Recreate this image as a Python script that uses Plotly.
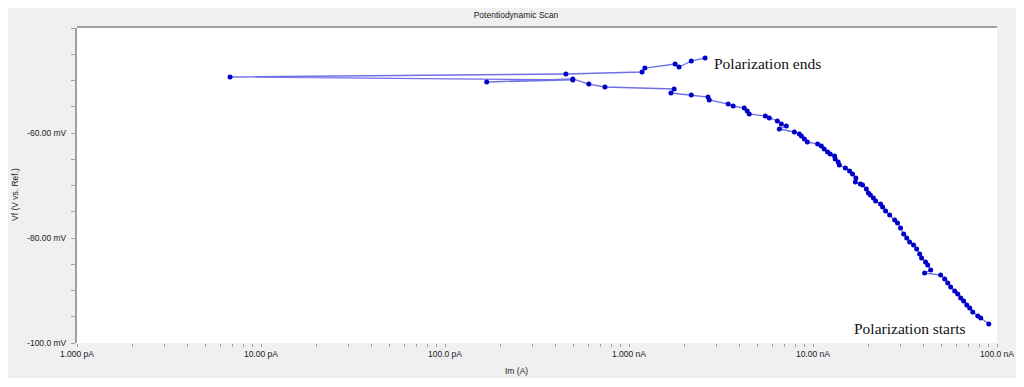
import plotly.graph_objects as go

# Scan order: starts at bottom right, ends at top
current_A = [
    90.2e-9, 81.6e-9, 78.6e-9, 73.8e-9, 71.1e-9, 68.5e-9, 65.9e-9, 63.5e-9, 61.2e-9, 58.9e-9,
    56.0e-9, 54.0e-9, 52.0e-9, 49.4e-9, 40.4e-9, 43.6e-9, 42.0e-9, 40.9e-9, 38.9e-9, 38.0e-9,
    36.6e-9, 35.2e-9, 33.5e-9, 32.3e-9, 31.1e-9, 29.9e-9, 28.8e-9, 27.8e-9, 26.1e-9, 24.8e-9,
    23.9e-9, 23.3e-9, 21.9e-9, 21.3e-9, 20.5e-9, 20.0e-9, 19.5e-9, 18.6e-9, 18.1e-9, 17.0e-9,
    17.1e-9, 16.4e-9, 15.8e-9, 15.0e-9, 13.9e-9, 13.7e-9, 13.2e-9, 13.1e-9, 12.4e-9, 12.0e-9,
    11.5e-9, 11.1e-9, 10.6e-9, 9.32e-9, 8.98e-9, 8.65e-9, 8.43e-9, 7.92e-9, 6.56e-9, 7.16e-9,
    6.73e-9, 6.40e-9, 5.79e-9, 5.51e-9, 4.50e-9, 4.39e-9, 4.23e-9, 3.68e-9, 3.46e-9, 2.73e-9,
    2.69e-9, 2.18e-9, 1.69e-9, 1.76e-9, 0.740e-9, 0.605e-9, 0.495e-9, 0.1685e-9, 0.495e-9,
    0.00679e-9, 0.454e-9, 1.177e-9, 1.22e-9, 1.78e-9, 1.87e-9, 2.18e-9, 2.59e-9,
]
potential_mV = [
    -96.38, -95.24, -94.86, -94.10, -93.33, -92.76, -92.00, -91.43, -90.67, -90.10,
    -89.33, -88.57, -87.81, -87.05, -86.67, -86.10, -85.14, -84.57, -83.81, -83.05,
    -82.10, -81.33, -80.76, -80.00, -79.24, -78.10, -77.14, -76.57, -75.62, -74.86,
    -74.10, -73.52, -72.95, -72.38, -71.81, -71.43, -70.67, -69.90, -69.71, -69.33,
    -68.57, -67.81, -67.24, -66.67, -66.10, -65.52, -64.95, -64.38, -64.00, -63.62,
    -63.05, -62.48, -62.10, -61.71, -61.14, -60.57, -60.19, -59.81, -59.24, -58.67,
    -58.29, -57.71, -57.14, -56.76, -56.38, -55.81, -55.24, -54.86, -54.48, -53.71,
    -53.14, -52.76, -52.38, -51.62, -51.24, -50.67, -49.71, -50.29, -49.90,
    -49.33, -48.76, -48.38, -47.62, -46.86, -47.43, -46.29, -45.71,
]

x_tick_vals = [1e-12, 1e-11, 1e-10, 1e-9, 1e-8, 1e-7]
x_tick_text = ["1.000 pA", "10.00 pA", "100.0 pA", "1.000 nA", "10.00 nA", "100.0 nA"]
y_tick_vals = [-100, -80, -60]
y_tick_text = ["-100.0 mV", "-80.00 mV", "-60.00 mV"]

title_text = "Potentiodynamic Scan"
x_title = "Im (A)"
y_title = "Vf (V vs. Ref.)"
label_end = "Polarization ends"
label_start = "Polarization starts"

# page is rendered with an 8px body margin; figure = the gray panel
OFF = 8
W, H = 1009, 370
L, T = 77 - OFF, 28 - OFF
R = W - (997 - OFF)
B = H - (343 - OFF)
PW, PH = W - L - R, H - T - B

def px(xp):
    return (xp - OFF - L) / PW

def py(yp):
    return (H - B - (yp - OFF)) / PH

gray = "#f0f0f0"
axis_gray = "#a0a0a0"
tick_font = dict(family="Liberation Sans, Arial, sans-serif", size=8.5, color="#222222")

x_minor = [m * 10 ** e for e in range(-12, -7) for m in range(2, 10)]
y_minor = [v for v in range(-100, -39, 5)]

fig = go.Figure()
fig.add_trace(go.Scatter(
    x=current_A, y=potential_mV, mode="lines+markers",
    line=dict(color="rgba(50,50,220,0.7)", width=1.3),
    marker=dict(color="#0000c8", size=5),
    showlegend=False, hoverinfo="x+y",
))

shapes = [
    dict(type="line", xref="paper", yref="paper", x0=0, x1=1, y0=1.003, y1=1.003,
         line=dict(color=axis_gray, width=2)),
]

fig.update_layout(
    width=W, height=H,
    margin=dict(l=L, r=R, t=T, b=B, autoexpand=False),
    paper_bgcolor=gray, plot_bgcolor="white",
    shapes=shapes,
    title=dict(text=title_text, x=(516 - OFF) / W, xanchor="center", y=1 - (15 - OFF) / H,
               yanchor="middle",
               font=dict(family="Liberation Sans, Arial, sans-serif", size=8.5, color="#222222")),
    xaxis=dict(
        type="log", range=[-12, -7], tickvals=x_tick_vals, ticktext=x_tick_text,
        automargin=False,
        ticks="outside", ticklen=3, tickcolor=axis_gray, tickfont=tick_font,
        showgrid=False, zeroline=False, showline=False,
        minor=dict(tickvals=x_minor, ticks="outside", ticklen=3, tickcolor=axis_gray, showgrid=False),
    ),
    yaxis=dict(
        range=[-100, -40], tickvals=y_tick_vals, ticktext=y_tick_text,
        automargin=False,
        ticks="outside", ticklen=4, tickcolor=axis_gray, tickfont=tick_font,
        ticklabelstandoff=3,
        showgrid=False, zeroline=False, showline=True, linecolor=axis_gray, linewidth=2,
        minor=dict(tickvals=y_minor, ticks="outside", ticklen=4, tickcolor=axis_gray, showgrid=False),
    ),
    annotations=[
        dict(text=x_title, xref="paper", yref="paper", x=px(516), y=py(371), showarrow=False,
             xanchor="center", yanchor="middle", font=tick_font),
        dict(text=y_title, xref="paper", yref="paper", x=px(15), y=py(195), showarrow=False,
             textangle=-90, xanchor="center", yanchor="middle", font=tick_font),
        dict(text=label_end, xref="paper", yref="paper", x=px(712), y=py(63), showarrow=False,
             xanchor="left", yanchor="middle",
             font=dict(family="Liberation Serif, Times New Roman, serif", size=15.5, color="#111111")),
        dict(text=label_start, xref="paper", yref="paper", x=px(852), y=py(328), showarrow=False,
             xanchor="left", yanchor="middle",
             font=dict(family="Liberation Serif, Times New Roman, serif", size=15.5, color="#111111")),
    ],
)

fig.write_html("out.html")
